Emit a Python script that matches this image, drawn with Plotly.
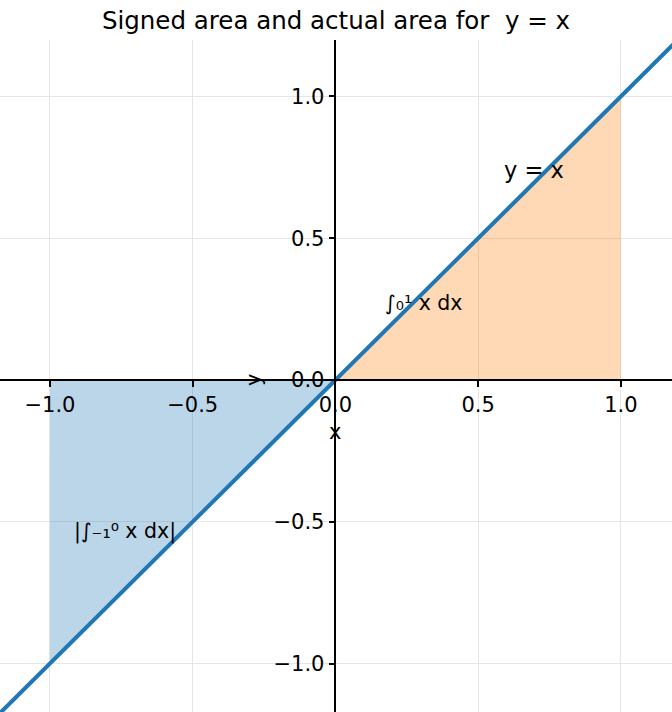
"""Signed area vs actual area for y = x, with spines through the origin."""

import plotly.graph_objects as go

# line y = x, drawn past the visible range and clipped by the axes
line_x = [-1.3, 1.3]
line_y = [-1.3, 1.3]

# area pieces: negative part on [-1, 0], positive part on [0, 1]
neg_x = [-1.0, 0.0]
neg_y = [-1.0, 0.0]
pos_x = [0.0, 1.0]
pos_y = [0.0, 1.0]

tick_vals = [-1.0, -0.5, 0.0, 0.5, 1.0]

x_range = [-1.175, 1.179]
y_range = [-1.171, 1.199]

FONT = "DejaVu Sans"
BLUE = "#1f77b4"

fig = go.Figure()
fig.add_scatter(x=neg_x, y=neg_y, mode="lines", fill="tozeroy",
                fillcolor="rgba(31,119,180,0.3)", line={"width": 0},
                hoverinfo="skip")
fig.add_scatter(x=pos_x, y=pos_y, mode="lines", fill="tozeroy",
                fillcolor="rgba(255,127,14,0.3)", line={"width": 0},
                hoverinfo="skip")
fig.add_scatter(x=line_x, y=line_y, mode="lines", line={"color": BLUE, "width": 4})

# spine positions (paper fractions where the other axis is zero)
x_pos = -y_range[0] / (y_range[1] - y_range[0])
y_pos = -x_range[0] / (x_range[1] - x_range[0])

axis_common = dict(
    tickvals=tick_vals, tickformat=".1f", showline=True, linecolor="black",
    linewidth=1.5, ticks="outside", ticklen=6, tickwidth=1.5, tickcolor="black",
    showgrid=True, gridcolor="#e6e6e6", gridwidth=1, zeroline=False,
    tickfont={"family": FONT, "size": 21, "color": "black"}, anchor="free",
    automargin=False,
)
fig.update_xaxes(range=x_range, position=x_pos, side="bottom", **axis_common)
fig.update_yaxes(range=y_range, position=y_pos, side="left", **axis_common)

fig.add_annotation(x=0.583, y=0.74, text="y = x", showarrow=False,
                   xanchor="left", yanchor="middle",
                   font={"family": FONT, "size": 22.5, "color": "black"})
fig.add_annotation(x=0.167, y=0.272, text="∫₀¹ x dx", showarrow=False,
                   xanchor="left", yanchor="middle",
                   font={"family": FONT, "size": 20.5, "color": "black"})
fig.add_annotation(x=-0.923, y=-0.533, text="|∫₋₁⁰ x dx|", showarrow=False,
                   xanchor="left", yanchor="middle",
                   font={"family": FONT, "size": 20.5, "color": "black"})

# axis labels sit next to the centred spines, as matplotlib leaves them
fig.add_annotation(x=0.0, y=-0.185, text="x", showarrow=False,
                   xanchor="center", yanchor="middle",
                   font={"family": FONT, "size": 21, "color": "black"})
fig.add_annotation(x=-0.285, y=0.0, text="y", showarrow=False, textangle=-90,
                   xanchor="center", yanchor="middle",
                   font={"family": FONT, "size": 21, "color": "black"})

fig.update_layout(
    width=672, height=712,
    margin={"l": 0, "r": 0, "t": 40, "b": 0, "pad": 0},
    plot_bgcolor="white", paper_bgcolor="white",
    showlegend=False,
    title={"text": "Signed area and actual area for  y = x", "x": 0.5, "xanchor": "center",
           "y": 1 - 20 / 712, "yanchor": "middle",
           "font": {"family": FONT, "size": 24.5, "color": "black"}},
)

# the page's default body margin would push the figure 8px in
fig.write_html("out.html", config={"displayModeBar": False},
               post_script="document.body.style.margin = '0';")
